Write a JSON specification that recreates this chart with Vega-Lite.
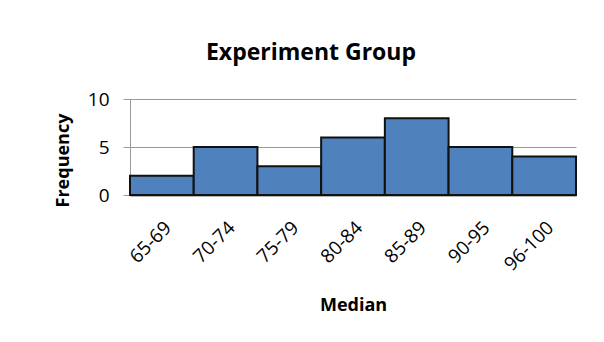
{
  "$schema": "https://vega.github.io/schema/vega-lite/v6.json",
  "width": 446,
  "height": 96,
  "autosize": "none",
  "padding": {"left": 130, "top": 99, "right": 28, "bottom": 147},
  "background": "white",
  "title": {
    "text": "Experiment Group",
    "font": "Open Sans",
    "fontSize": 23,
    "fontWeight": "bold",
    "color": "#000000",
    "anchor": "middle",
    "frame": "group",
    "dx": -42,
    "baseline": "alphabetic",
    "offset": 7
  },
  "config": {
    "view": {"stroke": null},
    "font": "Open Sans"
  },
  "data": {
    "values": [
      {"range": "65-69", "freq": 2},
      {"range": "70-74", "freq": 5},
      {"range": "75-79", "freq": 3},
      {"range": "80-84", "freq": 6},
      {"range": "85-89", "freq": 8},
      {"range": "90-95", "freq": 5},
      {"range": "96-100", "freq": 4}
    ]
  },
  "mark": {"type": "bar", "color": "#4F81BD", "stroke": "#111111", "strokeWidth": 2},
  "encoding": {
    "x": {
      "field": "range",
      "type": "ordinal",
      "sort": null,
      "scale": {"paddingInner": 0, "paddingOuter": 0},
      "axis": {
        "title": "Median",
        "titleFont": "Open Sans",
        "titleFontSize": 18,
        "titleFontWeight": "bold",
        "titleColor": "#000000",
        "titleX": 223,
        "titleY": 110,
        "titleBaseline": "middle",
        "labelAngle": -45,
        "labelFont": "Open Sans",
        "labelFontSize": 19,
        "labelColor": "#000000",
        "labelPadding": 23,
        "ticks": false,
        "domainColor": "#6e6e6e",
        "domainWidth": 2
      }
    },
    "y": {
      "field": "freq",
      "type": "quantitative",
      "scale": {"domain": [0, 10]},
      "axis": {
        "title": "Frequency",
        "titleFont": "Open Sans",
        "titleFontSize": 18,
        "titleFontWeight": "bold",
        "titleColor": "#000000",
        "titleX": -67,
        "titleY": 61,
        "titleAngle": -90,
        "titleBaseline": "middle",
        "values": [0, 5, 10],
        "labelFont": "Open Sans",
        "labelFontSize": 19,
        "labelColor": "#000000",
        "labelPadding": 14,
        "tickSize": 7,
        "tickColor": "#999999",
        "domainColor": "#999999",
        "gridColor": "#999999",
        "grid": true
      }
    }
  }
}
